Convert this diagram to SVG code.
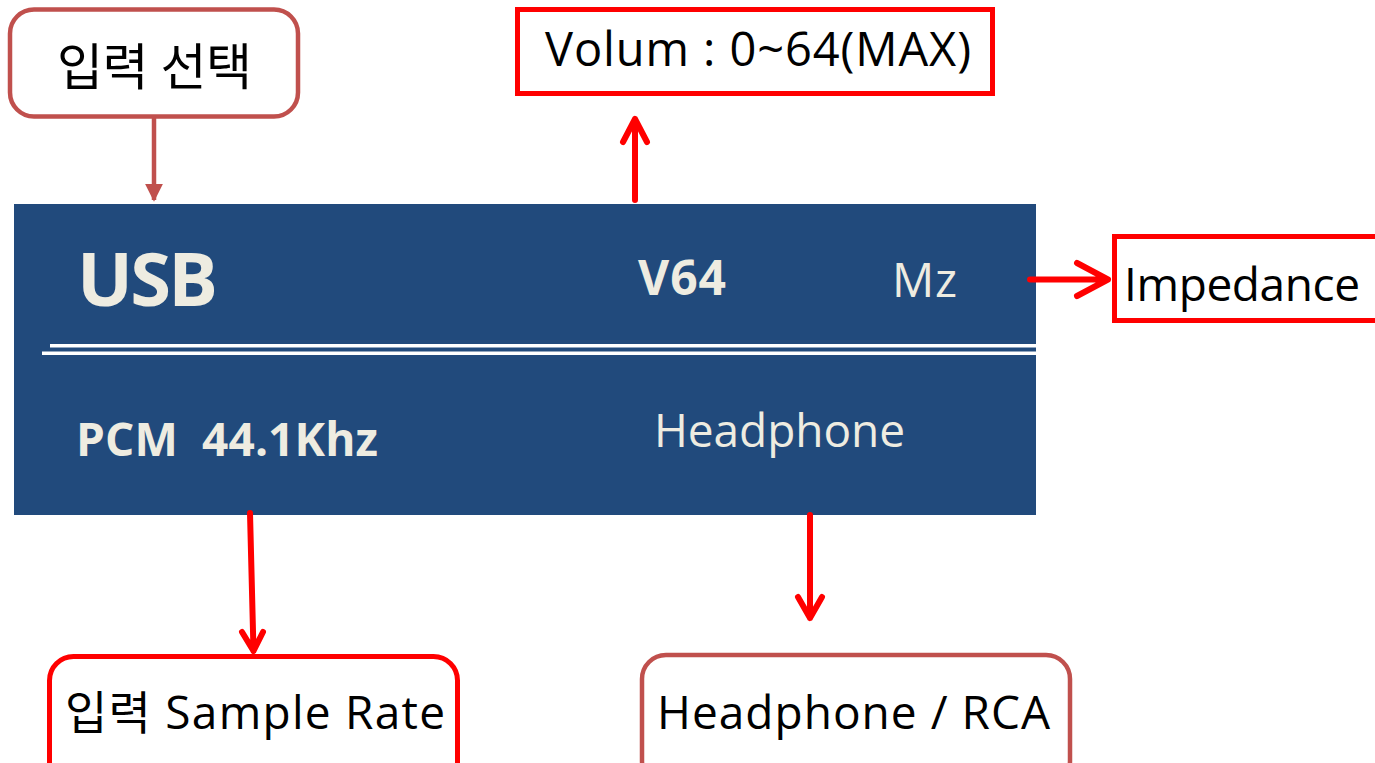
<svg xmlns="http://www.w3.org/2000/svg" width="1375" height="763" viewBox="0 0 1375 763">
<style>
text{font-family:"Open Sans","Noto Sans CJK KR",sans-serif;}
.blk{fill:#000;}
.lt{fill:#eeece1;}
.b{font-weight:bold;}
.redbox{fill:#fff;stroke:#ff0000;stroke-width:5;}
.brbox{fill:#fff;stroke:#c0504d;stroke-width:4.5;}
.rarr{fill:none;stroke:#ff0000;stroke-width:6;stroke-linecap:round;stroke-linejoin:round;}
</style>
<defs>
<marker id="tri" viewBox="0 0 10 10" refX="9" refY="5" markerWidth="4" markerHeight="4" orient="auto" markerUnits="strokeWidth">
<path d="M0,0 L10,5 L0,10 Z" fill="#c0504d"/>
</marker>
</defs>
<rect width="1375" height="763" fill="#fff"/>
<g id="panel">
<rect x="14" y="204" width="1022" height="311" fill="#214a7c"/>
<rect x="50" y="344" width="986" height="3.5" fill="#fff"/>
<rect x="42" y="351.5" width="994" height="3.5" fill="#fff"/>
<text class="lt b" x="77" y="306" font-size="74" textLength="141">USB</text>
<text class="lt b" x="638" y="295" font-size="48" textLength="88">V64</text>
<text class="lt" x="892" y="297" font-size="47" textLength="65">Mz</text>
<text class="lt b" x="76" y="456" font-size="46" xml:space="preserve" textLength="302">PCM  44.1Khz</text>
<text class="lt" x="654" y="447" font-size="46" textLength="251">Headphone</text>
</g>
<g id="input-select">
<rect class="brbox" x="10" y="9.5" width="288" height="107" rx="24"/>
<text class="blk" x="57" y="85" font-size="50" textLength="195" lengthAdjust="spacing">입력 선택</text>
</g>
<g id="volume">
<rect class="redbox" x="517.5" y="9.5" width="475" height="84"/>
<text class="blk" x="545" y="66" font-size="47" textLength="426" lengthAdjust="spacing">Volum : 0~64(MAX)</text>
</g>
<g id="impedance">
<rect class="redbox" x="1114.5" y="236.5" width="270" height="84"/>
<text class="blk" x="1124" y="301" font-size="46" textLength="236" lengthAdjust="spacing">Impedance</text>
</g>
<g id="sample-rate">
<rect class="redbox" x="49.5" y="656.5" width="408" height="130" rx="24"/>
<text class="blk" x="65" y="729" font-size="46" textLength="380" lengthAdjust="spacing">입력 Sample Rate</text>
</g>
<g id="output">
<rect class="brbox" x="642" y="655" width="428" height="130" rx="24"/>
<text class="blk" x="657" y="729" font-size="46" textLength="393" lengthAdjust="spacing">Headphone / RCA</text>
</g>
<g id="connectors">
<line x1="154" y1="118" x2="154" y2="200" stroke="#c0504d" stroke-width="4.5" marker-end="url(#tri)"/>
<path class="rarr" d="M635,200 L635,119 M623,142 L635,119 L647,142"/>
<path class="rarr" d="M1030,279.5 L1108,279.5 M1077,263 L1108,279.5 L1077,296" stroke-linecap="butt"/>
<path class="rarr" d="M250,513 L253.5,651 M242,632 L253.5,651 L263,632"/>
<path class="rarr" d="M810,515 L810,618 M798,597 L810,618 L822,597"/>
</g>
</svg>
